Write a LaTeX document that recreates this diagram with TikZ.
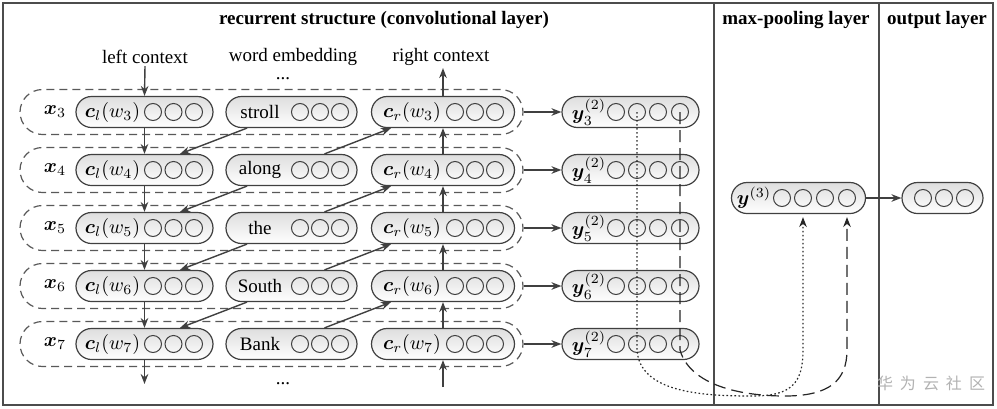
\RequirePackage{fix-cm}
\documentclass[tikz,border=0pt]{standalone}
\usepackage{amsmath}
\usepackage{bm}
\usepackage{fontspec}
\setmainfont{Liberation Serif}
\newfontfamily\cjkfont{Noto Sans CJK SC}
\usetikzlibrary{shapes.misc,arrows.meta,calc}
\begin{document}
\begin{tikzpicture}[x=0.5pt,y=-0.5pt,
  font=\fontsize{9.5}{11}\selectfont,
  box/.style={rounded rectangle, draw=black!75, line width=0.6pt, top color=black!13, bottom color=white, minimum height=15.5pt, inner sep=0pt},
  grp/.style={rounded rectangle, draw=black!65, line width=0.6pt, dash pattern=on 4pt off 2.5pt, minimum height=22.5pt, minimum width=251.5pt, inner sep=0pt},
  unit/.style={circle, draw=black!75, line width=0.5pt, minimum size=8.5pt, inner sep=0pt},
  arr/.style={draw=black!75, line width=0.7pt, -{Stealth[length=5pt,width=3.8pt]}},
  lbl/.style={inner sep=1pt},
  mlbl/.style={inner sep=1pt, font=\fontsize{10}{12}\selectfont},
  ttl/.style={inner sep=1pt, font=\fontsize{9.5}{11}\selectfont\bfseries},
  dots/.style={inner sep=0pt, text height=2pt, text depth=0pt, anchor=base},
]
\useasboundingbox (0,0) rectangle (997,408);
% frame
\draw[black!70, line width=0.8pt] (3,3) rectangle (993,405);
\draw[black!70, line width=0.8pt] (714,3) -- (714,405);
\draw[black!70, line width=0.8pt] (879,3) -- (879,405);
% titles
\node[ttl] (t1) at (384,20) {recurrent structure (convolutional layer)};
\node[ttl] (t2) at (796,20) {max-pooling layer};
\node[ttl] (t3) at (937,20) {output layer};
% top labels
\node[lbl] (lc) at (145,57) {left context};
\node[lbl] (we) at (293,57) {word embedding};
\node[lbl] (rc) at (441,57) {right context};
\node[dots] (dt) at (283,79) {...};
\node[dots] (db) at (283,384) {...};
% rows
\foreach \i/\w/\r in {3/stroll/112, 4/along/170, 5/the/228, 6/South/286, 7/Bank/344}{
  \node[grp] (g\i) at (271.5,\r) {};
  \node[mlbl] (x\i) at (55,\r) {$\bm{x}_\i$};
  \node[box, minimum width=68.5pt] (cl\i) at (144.5,\r) {};
  \node[mlbl] (clt\i) at (112.5,\r) {$\bm{c}_l(w_\i)$};
  \foreach \k/\cx in {1/153,2/173.5,3/194}{\node[unit] (cl\i-\k) at (\cx,\r) {};}
  \node[box, minimum width=65.5pt] (w\i) at (291.5,\r) {};
  \node[lbl] (wt\i) at (260,\r) {\w};
  \foreach \k/\cx in {1/300,2/320,3/340}{\node[unit] (w\i-\k) at (\cx,\r) {};}
  \node[box, minimum width=71.5pt] (cr\i) at (443,\r) {};
  \node[mlbl] (crt\i) at (412,\r) {$\bm{c}_r(w_\i)$};
  \foreach \k/\cx in {1/455,2/475,3/495}{\node[unit] (cr\i-\k) at (\cx,\r) {};}
  \node[box, minimum width=68.5pt] (y\i) at (630.5,\r) {};
  \node[mlbl] (yt\i) at (589,\r) {$\bm{y}_\i^{(2)}$};
  \foreach \k/\cx in {1/616,2/637,3/658,4/680}{\node[unit] (y\i-\k) at (\cx,\r) {};}
  \draw[arr] (g\i.east) -- (y\i.west);
}
% recurrent connections
\foreach \i/\j in {3/4,4/5,5/6,6/7}{
  \draw[arr] (cl\i.south) -- (cl\j.north);
  \draw[arr] (cr\j.north) -- (cr\i.south);
  \draw[arr] ($(w\i.south)+(-44.5,0)$) -- ($(cl\j.north)+(35.5,0)$);
  \draw[arr] ($(w\j.north)+(33,0)$) -- ($(cr\i.south)+(-52,0)$);
}
\draw[arr] (lc.south) -- (cl3.north);
\draw[arr] (cr3.north) -- (cr3.north |- rc.south);
\coordinate (lb) at (144.5,384);
\coordinate (rb) at (443,387);
\draw[arr] (cl7.south) -- (lb);
\draw[arr] (rb) -- (cr7.south);
% max pooling
\node[box, minimum width=67pt] (p) at (798.5,198) {};
\node[mlbl] (pt) at (754,198) {$\bm{y}^{(3)}$};
\foreach \k/\cx in {1/782,2/803,3/825,4/847}{\node[unit] (p-\k) at (\cx,198) {};}
% output
\node[box, minimum width=40.5pt] (o) at (942.5,198) {};
\foreach \k/\cx in {1/923,2/944,3/965}{\node[unit] (o-\k) at (\cx,198) {};}
\draw[arr] (p.east) -- (o.west);
% pooling paths
\draw[black!85, line width=0.6pt, dash pattern=on 0.8pt off 1.2pt, -{Stealth[length=5pt,width=3.8pt]}]
  (y3-2.center) -- (637,350) .. controls (640,392) and (700,396) .. (752,396)
  .. controls (790,396) and (803,385) .. (803,350) -- ($(p-2 |- p.south)+(0,3)$);
\draw[black!85, line width=0.6pt, dash pattern=on 6pt off 3pt, -{Stealth[length=5pt,width=3.8pt]}]
  (y3-4.center) -- (680,350) .. controls (690,385) and (740,396) .. (785,396)
  .. controls (830,396) and (847,380) .. (847,350) -- ($(p-4 |- p.south)+(0,3)$);
% watermark
\node[text=black!30, inner sep=0pt, font=\cjkfont\fontsize{8}{9}\selectfont] (wm) at (931,383) {华\kern3.5pt 为\kern3.5pt 云\kern3.5pt 社\kern3.5pt 区};
\end{tikzpicture}
\end{document}
